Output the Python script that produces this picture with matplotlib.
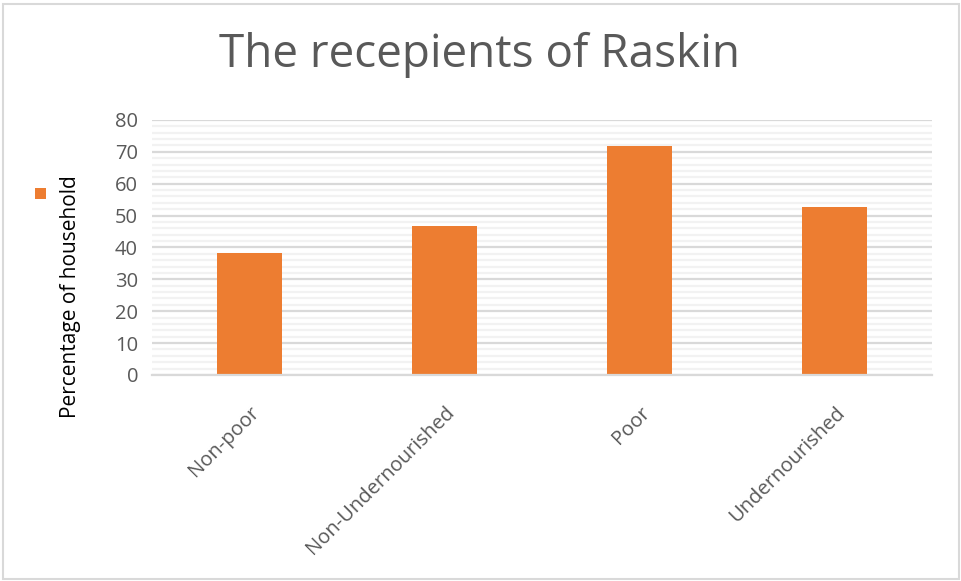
import matplotlib
matplotlib.use("Agg")
import matplotlib.pyplot as plt
from matplotlib.patches import Patch, Rectangle
from matplotlib.ticker import MultipleLocator

# data
categories = ["Non-poor", "Non-Undernourished", "Poor", "Undernourished"]
values = [38.3, 46.6, 71.8, 52.6]
series_label = ""
title = "The recepients of Raskin"
ylabel = "Percentage of household"

orange = "#ED7D31"
grey_text = "#595959"

plt.rcParams['font.family'] = ['Open Sans', 'DejaVu Sans']

fig = plt.figure(figsize=(9.62, 5.81), dpi=100)
ax = fig.add_axes([0.158, 0.3546, 0.811, 0.4389])

x = list(range(len(categories)))
ax.bar(x, values, width=0.33, color=orange, zorder=3)

ax.set_xlim(-0.5, len(categories) - 0.5)
ax.set_ylim(0, 80)
ax.yaxis.set_major_locator(MultipleLocator(10))
ax.yaxis.set_minor_locator(MultipleLocator(2))
ax.grid(axis='y', which='major', color='#d9d9d9', linewidth=1.6, zorder=0)
ax.grid(axis='y', which='minor', color='#f2f2f2', linewidth=1.6, zorder=0)

for s in ['top', 'right', 'left']:
    ax.spines[s].set_visible(False)
ax.spines['bottom'].set_color('#d9d9d9')
ax.spines['bottom'].set_linewidth(1.6)
ax.spines['bottom'].set_zorder(4)

ax.set_xticks(x)
ax.set_xticklabels(categories, rotation=45, ha='right', va='top',
                   rotation_mode='anchor', fontsize=14.5, color=grey_text)
ax.tick_params(axis='x', length=0, pad=20)
ax.tick_params(axis='y', which='both', length=0, labelsize=14.5, labelcolor=grey_text, pad=10)

fig.text(0.498, 0.905, title, ha='center', va='center', fontsize=33, color=grey_text)
fig.text(0.073, 0.489, ylabel, rotation=90, ha='center', va='center', fontsize=15, color='black')

fig.legend(handles=[Patch(facecolor=orange)], labels=[series_label],
           loc='center', bbox_to_anchor=(0.048, 0.665), frameon=False,
           handlelength=0.8, handleheight=0.8)

fig.patches.append(Rectangle((0.003, 0.003), 0.994, 0.99, transform=fig.transFigure,
                             fill=False, edgecolor='#d9d9d9', linewidth=1.5))

fig.savefig("out.png", dpi=100)
